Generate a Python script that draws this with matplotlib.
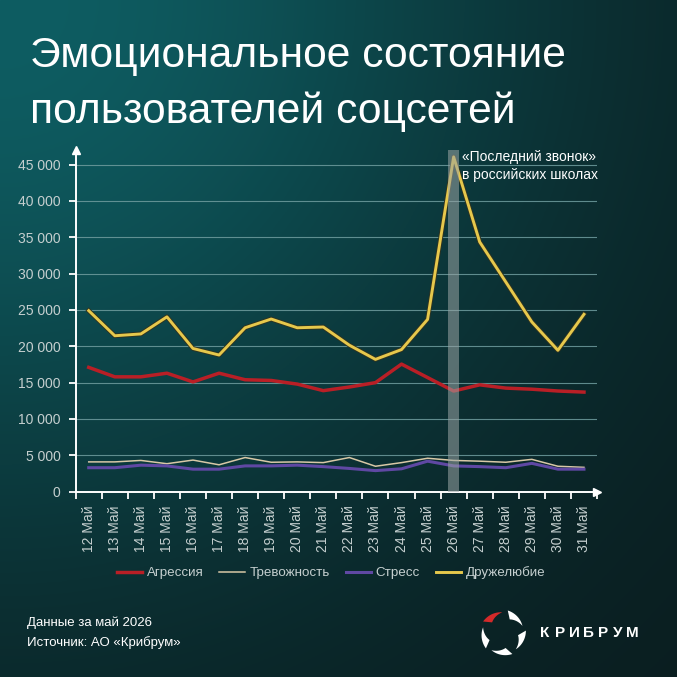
import numpy as np
import matplotlib
matplotlib.use('Agg')
import matplotlib.pyplot as plt
import matplotlib.patheffects as pe
from matplotlib.patches import Polygon
from matplotlib.lines import Line2D
from matplotlib.ticker import FuncFormatter

# data
days = list(range(12, 32))
labels = [f"{d} Май" for d in days]
aggression = [17100, 15800, 15800, 16300, 15100, 16300, 15400, 15300, 14800, 13900,
              14400, 15000, 17550, 15700, 13850, 14700, 14250, 14100, 13850, 13700]
anxiety = [4100, 4100, 4300, 3850, 4350, 3700, 4700, 4050, 4100, 4000,
           4700, 3500, 4000, 4600, 4300, 4200, 4050, 4450, 3500, 3350]
stress = [3300, 3300, 3650, 3550, 3100, 3100, 3550, 3550, 3650, 3450,
          3200, 2900, 3150, 4200, 3550, 3450, 3300, 3900, 3100, 3100]
friendly = [24900, 21450, 21700, 24050, 19700, 18800, 22550, 23750, 22550, 22650,
            20150, 18200, 19550, 23700, 46050, 34350, 28850, 23350, 19450, 24400]
series_names = ["Агрессия", "Тревожность", "Стресс", "Дружелюбие"]
event_day = 26

plt.rcParams['font.family'] = ['Liberation Sans', 'DejaVu Sans']

W = 677
fig = plt.figure(figsize=(6.77, 6.77), dpi=100)

# background gradient (teal glow from the top-left corner)
bg = fig.add_axes([0, 0, 1, 1], zorder=-10)
yy, xx = np.mgrid[0:1:300j, 0:1:300j]
d2 = xx ** 2 + yy ** 2
f = np.exp(-1.47 * d2)[..., None]
c0 = np.array([14, 93, 98]) / 255
c1 = np.array([10, 27, 29]) / 255
bg.imshow(c1 + (c0 - c1) * f, extent=[0, 1, 0, 1], origin='upper', aspect='auto')
bg.set_axis_off()

# title
fig.text(30 / W, 1 - 67 / W, "Эмоциональное состояние", color='white', fontsize=30.7,
         ha='left', va='baseline')
fig.text(30 / W, 1 - 123 / W, "пользователей соцсетей", color='white', fontsize=30.7,
         ha='left', va='baseline')

# main chart
ax = fig.add_axes([75.7 / W, 1 - 491.7 / W, (597 - 75.7) / W, (491.7 - 150) / W])
ax.set_facecolor('none')
x = np.arange(len(days))

ax.plot(x, aggression, color='#b91f26', lw=2.5, zorder=3)
ax.plot(x, anxiety, color='#d8c8a6', lw=1.1, zorder=3)
ax.plot(x, stress, color='#5f48a3', lw=2.2, zorder=3)
ax.plot(x, friendly, color='#e6c84c', lw=2.1, zorder=4,
        path_effects=[pe.Stroke(linewidth=3.4, foreground='#2f3320'), pe.Normal()])

ei = days.index(event_day)
ax.axvspan(ei - 0.2, ei + 0.2, color='#9aa4a4', alpha=0.55, lw=0, zorder=5)
ax.text(ei + 0.33, 44850, "«Последний звонок»\nв российских школах", color='white',
        fontsize=10, ha='left', va='center', linespacing=1.35, zorder=6)

ax.set_xlim(-0.5, len(days) - 0.5)
ax.set_ylim(0, 47000)
ax.set_yticks(range(0, 45001, 5000))
ax.yaxis.set_major_formatter(FuncFormatter(lambda v, p: f"{int(v):,}".replace(",", " ")))
ax.grid(axis='y', color='#6f9c9e', lw=0.8, alpha=0.85)
ax.set_axisbelow(True)

ax.set_xticks(x)
ax.set_xticklabels(labels, rotation=90, fontsize=10, color='#c5cfcf')
ax.set_xticks(np.arange(-0.5, len(days)), minor=True)
ax.tick_params(axis='x', which='major', length=0, pad=10)
ax.tick_params(axis='x', which='minor', length=5, width=1.3, color='white', direction='out')
ax.tick_params(axis='y', length=5, width=1.3, color='white', pad=6, labelcolor='#c5cfcf',
               labelsize=10)

for s in ['top', 'right']:
    ax.spines[s].set_visible(False)
for s in ['left', 'bottom']:
    ax.spines[s].set_color('white')
    ax.spines[s].set_linewidth(1.4)
ax.plot([0], [1], marker='^', color='white', ms=6, transform=ax.transAxes, clip_on=False)
ax.plot([1], [0], marker='>', color='white', ms=6, transform=ax.transAxes, clip_on=False)

# legend
handles = [Line2D([], [], color='#b91f26', lw=2.5),
           Line2D([], [], color='#d8c8a6', lw=1.1),
           Line2D([], [], color='#5f48a3', lw=2.2),
           Line2D([], [], color='#e6c84c', lw=2.1)]
fig.legend(handles, series_names, loc='center', bbox_to_anchor=(331 / W, 1 - 573 / W),
           ncol=4, frameon=False, fontsize=9.6, labelcolor='#c5cfcf',
           handlelength=1.9, handletextpad=0.35, columnspacing=1.2)

# footer
fig.text(27 / W, 1 - 623 / W, "Данные за май 2026", color='white', fontsize=9.5,
         va='center')
fig.text(27 / W, 1 - 643 / W, "Источник: АО «Крибрум»", color='white', fontsize=9.5,
         va='center')

# logo
lg = fig.add_axes([480 / W, 1 - 656 / W, 46 / W, 46 / W])
lg.set_xlim(-1, 1)
lg.set_ylim(-1, 1)
lg.set_axis_off()
for k in range(5):
    t0 = np.deg2rad(150 - 72 * k)
    s = np.linspace(0, 1, 24)
    ang = t0 - s * np.deg2rad(58)
    outer = np.c_[np.cos(ang), np.sin(ang)] * (1.0 - 0.1 * s)[:, None]
    r_in = 0.66 + 0.24 * s
    inner = np.c_[np.cos(ang - 0.25 * (1 - s)), np.sin(ang - 0.25 * (1 - s))] * r_in[:, None]
    pts = np.vstack([outer, inner[::-1]])
    lg.add_patch(Polygon(pts, closed=True, color='#d42a2a' if k == 0 else 'white', lw=0))

for i, ch in enumerate("КРИБРУМ"):
    fig.text((545 + i * 14.6) / W, 1 - 633 / W, ch, color='white', fontsize=11,
             fontweight='bold', ha='center', va='center')

fig.savefig('out.png', dpi=100)
